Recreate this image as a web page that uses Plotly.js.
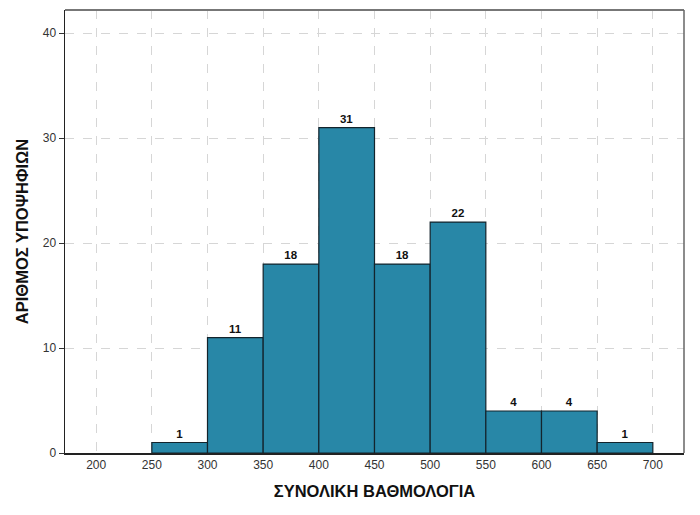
<!DOCTYPE html>
<html>
<head>
<meta charset="utf-8">
<script src="https://cdn.plot.ly/plotly-3.0.1.min.js"></script>
<style>html,body{margin:0;padding:0;background:#fff;}#chart{width:700px;height:515px;}</style>
</head>
<body>
<div id="chart"></div>
<script>
const binStarts = [250, 300, 350, 400, 450, 500, 550, 600, 650];
const counts = [1, 11, 18, 31, 18, 22, 4, 4, 1];
const xTicks = [200, 250, 300, 350, 400, 450, 500, 550, 600, 650, 700];
const yTicks = [0, 10, 20, 30, 40];
const binWidth = 50;

const centers = binStarts.map(s => s + binWidth / 2);

const trace = {
  type: 'bar',
  x: centers,
  y: counts,
  width: binStarts.map(() => binWidth),
  text: counts.map(String),
  textposition: 'outside',
  cliponaxis: false,
  textfont: {family: 'Liberation Sans, Arial, sans-serif', size: 11.5, color: '#111', weight: 'bold'},
  marker: {color: '#2887a7', line: {color: '#13242c', width: 1.2}},
  hoverinfo: 'skip'
};

const layout = {
  width: 700, height: 515,
  margin: {l: 65, r: 16, t: 10, b: 62},
  paper_bgcolor: '#fff', plot_bgcolor: '#fff',
  showlegend: false,
  font: {family: 'Liberation Sans, Arial, sans-serif', color: '#333'},
  xaxis: {
    range: [172, 728],
    tickvals: xTicks,
    ticktext: xTicks.map(String),
    showgrid: true, gridcolor: '#d6d6d6', griddash: 'dash', gridwidth: 1,
    zeroline: false,
    showline: true, linecolor: '#222', linewidth: 1.5,
    ticks: '', tickfont: {size: 12, color: '#333'},
    title: {text: '<b>ΣΥΝΟΛΙΚΗ ΒΑΘΜΟΛΟΓΙΑ</b>', font: {size: 16.5, color: '#111'}, standoff: 14}
  },
  yaxis: {
    range: [0, 42.2],
    tickvals: yTicks,
    ticktext: yTicks.map(String),
    showgrid: true, gridcolor: '#d6d6d6', griddash: 'dash', gridwidth: 1,
    zeroline: false,
    showline: true, linecolor: '#222', linewidth: 1.5,
    ticks: 'outside', ticklen: 5, tickcolor: '#333', tickwidth: 1,
    tickfont: {size: 12, color: '#333'},
    title: {text: '<b>ΑΡΙΘΜΟΣ ΥΠΟΨΗΦΙΩΝ</b>', font: {size: 16.5, color: '#111'}, standoff: 10}
  },
  shapes: [
    {type: 'line', xref: 'paper', yref: 'paper', x0: 0, x1: 1, y0: 1, y1: 1, line: {color: '#777', width: 2}},
    {type: 'line', xref: 'paper', yref: 'paper', x0: 1, x1: 1, y0: 0, y1: 1, line: {color: '#666', width: 1.5}}
  ]
};

Plotly.newPlot('chart', [trace], layout, {staticPlot: true, displayModeBar: false});
</script>
</body>
</html>
